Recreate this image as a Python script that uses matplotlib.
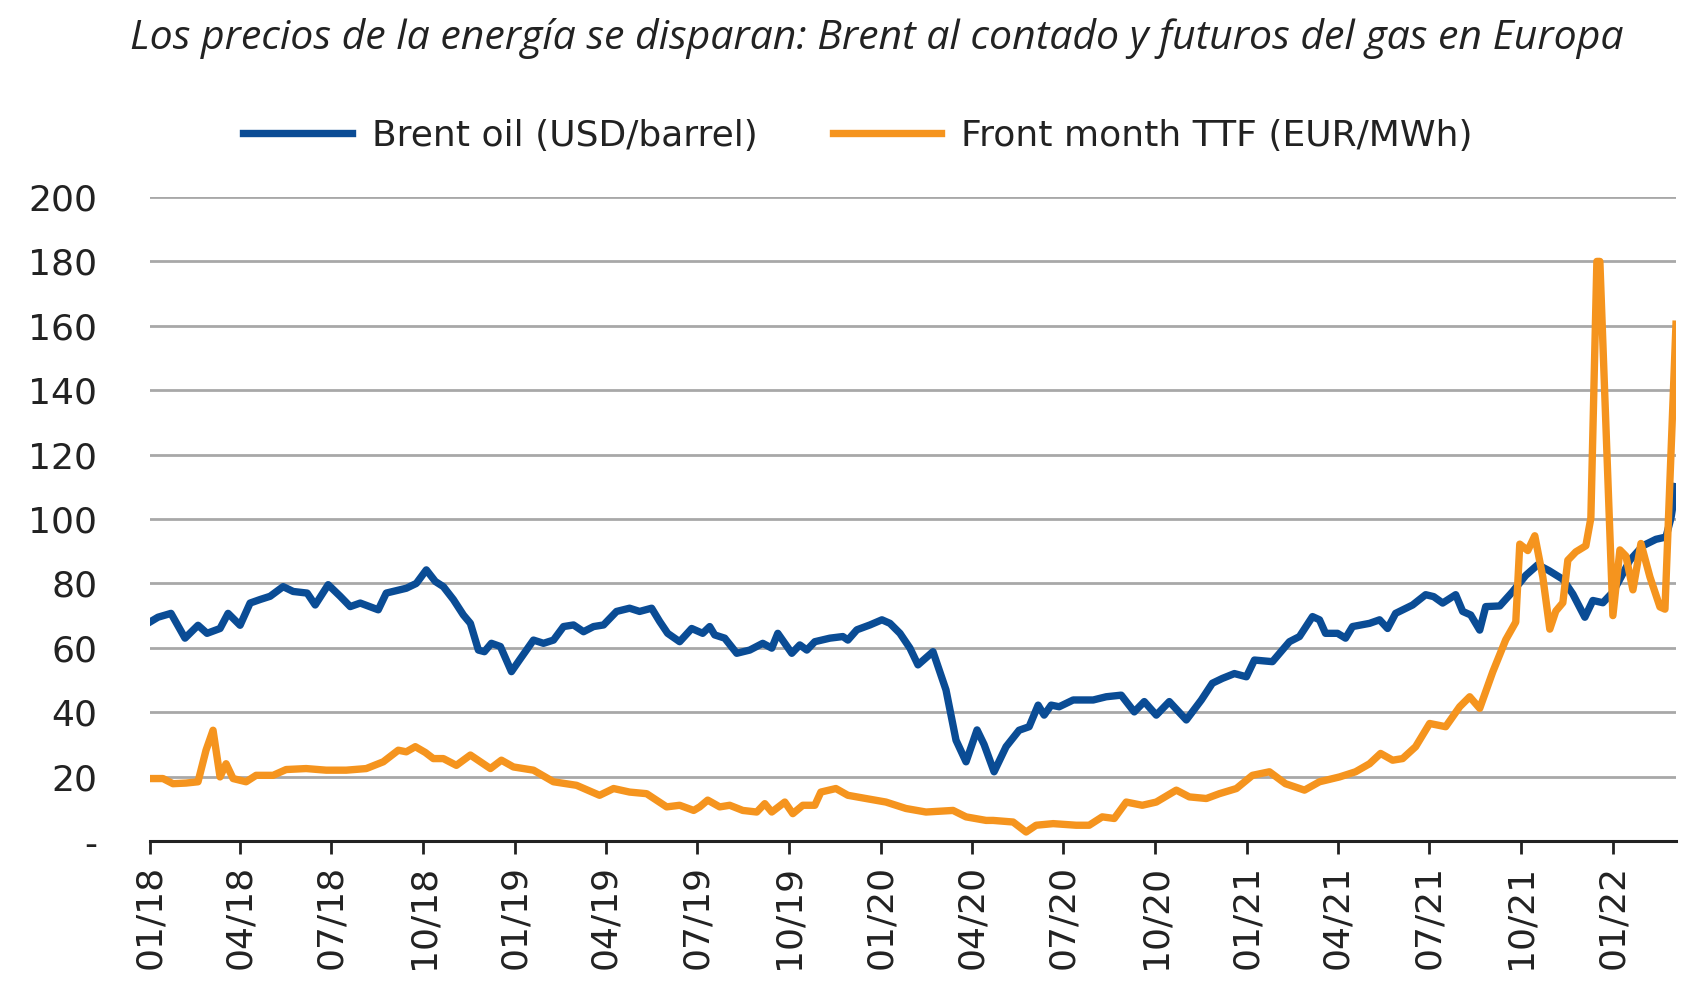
import numpy as np
import pandas as pd
import matplotlib
matplotlib.use("Agg")
import matplotlib.pyplot as plt
import matplotlib.dates as mdates
from matplotlib.ticker import FuncFormatter

# fechas como días desde el 01/01/2018
brent_day = [1, 8, 21, 35, 48, 57, 70, 78, 90, 100, 110, 120, 133, 143, 157, 165, 178, 190, 200, 210,
             228, 236, 256, 266, 276, 285, 293, 303, 313, 320, 328, 334, 341, 350, 361, 369, 383, 393,
             403, 413, 423, 433, 443, 453, 466, 479, 489, 501, 509, 517, 529, 541, 552, 559, 564, 574,
             586, 599, 612, 621, 627, 641, 649, 656, 664, 679, 692, 697, 706, 719, 731, 739, 749, 759,
             767, 782, 795, 805, 815, 826, 833, 843, 855, 868, 878, 887, 893, 900, 908, 922, 942, 955,
             970, 983, 993, 1005, 1018, 1035, 1050, 1061, 1071, 1083, 1095, 1103, 1121, 1138, 1148,
             1161, 1168, 1174, 1186, 1194, 1201, 1218, 1228, 1236, 1244, 1261, 1274, 1282, 1291, 1304,
             1311, 1319, 1328, 1334, 1348, 1361, 1374, 1386, 1397, 1411, 1421, 1433, 1441, 1451, 1461,
             1469, 1478, 1491, 1504, 1514, 1519, 1524]
brent_usd = [68.2, 69.5, 70.7, 63, 67, 64.5, 66, 70.7, 67, 73.9, 75, 76, 79, 77.5, 77, 73.3, 79.6, 76,
             72.8, 73.9, 71.8, 77, 78.5, 80, 84.2, 80.6, 79, 75, 70.2, 67.6, 59.3, 58.8, 61.4, 60.4,
             52.6, 56.2, 62.4, 61.4, 62.4, 66.6, 67.1, 65, 66.6, 67.1, 71.3, 72.3, 71.3, 72.3, 68.2,
             64.5, 61.9, 66, 64.5, 66.6, 64, 63, 58.3, 59.3, 61.4, 59.9, 64.5, 58.3, 60.9, 59.3, 61.9,
             63, 63.5, 62.4, 65.6, 67.1, 68.7, 67.6, 64.5, 59.9, 54.7, 58.8, 46.9, 31.3, 24.6, 34.5,
             30, 21.5, 29.3, 34.4, 35.5, 42.2, 39.1, 42.2, 41.7, 43.8, 43.8, 44.8, 45.3, 40.1, 43.3,
             39.1, 43.3, 37.6, 43.8, 49, 50.5, 52, 51, 56.2, 55.7, 61.9, 63.5, 69.7, 68.7, 64.5, 64.5,
             63, 66.6, 67.6, 68.7, 66, 70.7, 73.3, 76.5, 75.9, 73.9, 76.5, 71.3, 70.2, 65.5, 72.8, 73,
             77.5, 82.5, 85.8, 84, 81.3, 76.7, 69.5, 74.7, 74, 77.3, 81.9, 87.2, 91.7, 93.7, 94.4,
             100.3, 110]

ttf_day = [1, 13, 23, 36, 48, 56, 63, 70, 76, 83, 96, 106, 123, 136, 156, 176, 196, 216, 233, 248,
           256, 265, 275, 283, 293, 306, 320, 340, 351, 363, 383, 403, 426, 449, 463, 479, 496, 516,
           529, 543, 549, 557, 569, 579, 592, 606, 614, 621, 634, 642, 652, 664, 670, 685, 697, 715,
           735, 755, 775, 802, 815, 835, 842, 862, 875, 885, 902, 925, 938, 951, 963, 975, 991, 1005,
           1025, 1038, 1055, 1068, 1085, 1101, 1118, 1134, 1153, 1168, 1188, 1204, 1218, 1229, 1241,
           1251, 1264, 1278, 1294, 1308, 1318, 1328, 1341, 1354, 1364, 1368, 1376, 1383, 1391, 1398,
           1404, 1411, 1416, 1424, 1434, 1439, 1445, 1448, 1461, 1468, 1474, 1481, 1489, 1498, 1508,
           1513, 1524]
ttf_eur = [19.4, 19.4, 17.8, 18, 18.4, 28.2, 34.4, 19.9, 24, 19.4, 18.4, 20.4, 20.4, 22.2, 22.5, 22,
           22, 22.5, 24.6, 28.2, 27.7, 29.3, 27.5, 25.6, 25.6, 23.5, 26.7, 22.5, 25.1, 23, 22, 18.4,
           17.3, 14.2, 16.3, 15.2, 14.7, 10.6, 11.1, 9.5, 10.6, 12.7, 10.6, 11.1, 9.5, 9, 11.6, 9,
           12.1, 8.5, 11.1, 11.1, 15.2, 16.3, 14.2, 13.2, 12.1, 10.1, 9, 9.5, 7.5, 6.4, 6.4, 5.9, 2.8,
           4.9, 5.4, 4.9, 4.9, 7.5, 7, 12.1, 11.1, 12.1, 15.8, 13.7, 13.2, 14.7, 16.3, 20.4, 21.5,
           17.8, 15.8, 18.4, 19.9, 21.5, 24, 27.2, 25.1, 25.6, 29.3, 36.5, 35.5, 41.7, 44.8, 41.2,
           52.5, 62.5, 68, 92.2, 90.2, 94.8, 82, 65.8, 71.4, 74, 87.2, 89.8, 91.7, 100.3, 180, 180, 70,
           90.4, 88.5, 78, 92.4, 82, 72.7, 72, 160.5]

title = "Los precios de la energía se disparan: Brent al contado y futuros del gas en Europa"
label_brent = "Brent oil (USD/barrel)"
label_ttf = "Front month TTF (EUR/MWh)"

BLUE = "#0A4C95"
ORANGE = "#F5941E"


def main() -> None:
    start = pd.Timestamp("2018-01-01")
    brent_dates = start + pd.to_timedelta(brent_day, unit="D")
    ttf_dates = start + pd.to_timedelta(ttf_day, unit="D")

    fig = plt.figure(figsize=(17.06, 9.92), dpi=100)
    ax = fig.add_axes([0.0879, 0.1522, 0.8945, 0.6492])

    ax.plot(brent_dates, brent_usd, color=BLUE, lw=5.3, label=label_brent, solid_joinstyle="round")
    ax.plot(ttf_dates, ttf_eur, color=ORANGE, lw=5.3, label=label_ttf, solid_joinstyle="round")

    ax.set_ylim(0, 200)
    ax.set_yticks(np.arange(0, 201, 20))
    ax.yaxis.set_major_formatter(FuncFormatter(lambda v, p: "-" if v == 0 else f"{v:.0f}"))
    ax.set_xlim(start, brent_dates[-1])
    ax.xaxis.set_major_locator(mdates.MonthLocator(bymonth=[1, 4, 7, 10]))
    ax.xaxis.set_major_formatter(mdates.DateFormatter("%m/%y"))

    for v in range(20, 201, 20):
        ax.axhline(v, color="#A8A8A8", lw=2, zorder=0)

    for s in ["left", "right", "top"]:
        ax.spines[s].set_visible(False)
    ax.spines["bottom"].set_linewidth(2.2)
    ax.spines["bottom"].set_color("#222222")

    ax.tick_params(axis="y", length=0, pad=38, labelsize=26, labelcolor="#222222")
    ax.tick_params(axis="x", length=9, width=2, pad=8, labelsize=26, labelrotation=90,
                   color="#222222", labelcolor="#222222")
    for lab in ax.get_yticklabels() + ax.get_xticklabels():
        lab.set_family("DejaVu Sans")

    fig.text(0.514, 0.961, title, ha="center", va="center", fontsize=29.5,
             style="italic", family="Open Sans", color="#222222")

    fig.legend(loc="center", bbox_to_anchor=(0.503, 0.863), ncol=2, frameon=False,
               prop={"family": "DejaVu Sans", "size": 26}, handlelength=3.0,
               handletextpad=0.55, columnspacing=2.1, labelcolor="#222222")

    fig.savefig("out.png", dpi=100)
    plt.close(fig)


if __name__ == "__main__":
    main()
